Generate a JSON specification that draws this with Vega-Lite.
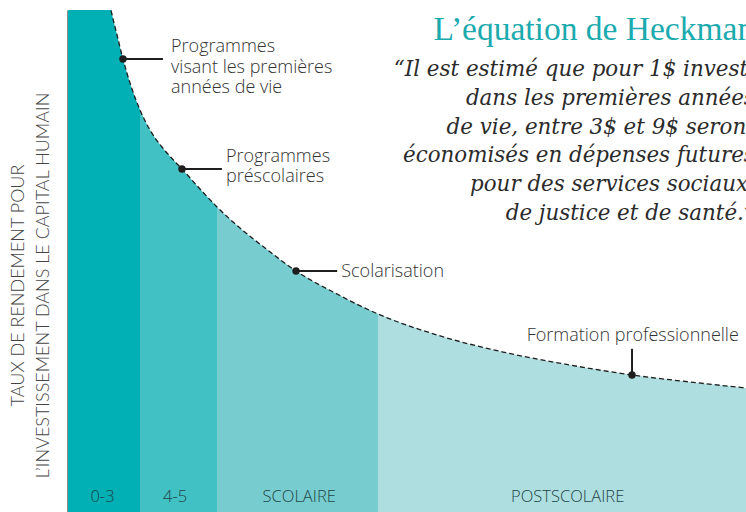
{
  "$schema": "https://vega.github.io/schema/vega-lite/v6.json",
  "width": 678,
  "height": 502,
  "autosize": {"type": "none"},
  "padding": {"left": 68, "top": 10, "right": 0, "bottom": 0},
  "background": "white",
  "config": {"view": {"stroke": null}},
  "datasets": {
    "areas": [
      {"seg": "0-3", "x": 0, "y": 151.79},
      {"seg": "0-3", "x": 1.77, "y": 134.86},
      {"seg": "0-3", "x": 3.24, "y": 122.31},
      {"seg": "0-3", "x": 4.42, "y": 112.75},
      {"seg": "0-3", "x": 5.46, "y": 105.58},
      {"seg": "0-3", "x": 6.34, "y": 100.0},
      {"seg": "0-3", "x": 7.23, "y": 95.02},
      {"seg": "0-3", "x": 8.11, "y": 90.24},
      {"seg": "0-3", "x": 9.29, "y": 84.86},
      {"seg": "0-3", "x": 10.62, "y": 80.08},
      {"seg": "4-5", "x": 10.62, "y": 80.08},
      {"seg": "4-5", "x": 12.09, "y": 76.10},
      {"seg": "4-5", "x": 13.86, "y": 72.71},
      {"seg": "4-5", "x": 15.34, "y": 70.42},
      {"seg": "4-5", "x": 16.81, "y": 68.33},
      {"seg": "4-5", "x": 19.47, "y": 64.34},
      {"seg": "4-5", "x": 21.98, "y": 60.76},
      {"seg": "SCOLAIRE", "x": 21.98, "y": 60.76},
      {"seg": "SCOLAIRE", "x": 25.37, "y": 56.57},
      {"seg": "SCOLAIRE", "x": 29.06, "y": 52.59},
      {"seg": "SCOLAIRE", "x": 33.63, "y": 48.01},
      {"seg": "SCOLAIRE", "x": 39.38, "y": 43.63},
      {"seg": "SCOLAIRE", "x": 45.72, "y": 39.44},
      {"seg": "POSTSCOLAIRE", "x": 45.72, "y": 39.44},
      {"seg": "POSTSCOLAIRE", "x": 54.42, "y": 35.26},
      {"seg": "POSTSCOLAIRE", "x": 64.16, "y": 31.87},
      {"seg": "POSTSCOLAIRE", "x": 74.04, "y": 29.28},
      {"seg": "POSTSCOLAIRE", "x": 83.19, "y": 27.29},
      {"seg": "POSTSCOLAIRE", "x": 91.74, "y": 25.90},
      {"seg": "POSTSCOLAIRE", "x": 100, "y": 24.70}
    ],
    "curve": [
      {"x": 0, "y": 151.79},
      {"x": 1.77, "y": 134.86},
      {"x": 3.24, "y": 122.31},
      {"x": 4.42, "y": 112.75},
      {"x": 5.46, "y": 105.58},
      {"x": 6.34, "y": 100.0},
      {"x": 7.23, "y": 95.02},
      {"x": 8.11, "y": 90.24},
      {"x": 9.29, "y": 84.86},
      {"x": 10.62, "y": 80.08},
      {"x": 12.09, "y": 76.10},
      {"x": 13.86, "y": 72.71},
      {"x": 15.34, "y": 70.42},
      {"x": 16.81, "y": 68.33},
      {"x": 19.47, "y": 64.34},
      {"x": 21.98, "y": 60.76},
      {"x": 25.37, "y": 56.57},
      {"x": 29.06, "y": 52.59},
      {"x": 33.63, "y": 48.01},
      {"x": 39.38, "y": 43.63},
      {"x": 45.72, "y": 39.44},
      {"x": 54.42, "y": 35.26},
      {"x": 64.16, "y": 31.87},
      {"x": 74.04, "y": 29.28},
      {"x": 83.19, "y": 27.29},
      {"x": 91.74, "y": 25.90},
      {"x": 100, "y": 24.70}
    ],
    "leaders": [
      {"x": 8.11, "x2": 14.0, "y": 90.24, "y2": 90.24},
      {"x": 16.81, "x2": 22.7, "y": 68.33, "y2": 68.33},
      {"x": 33.63, "x2": 39.7, "y": 48.01, "y2": 48.01},
      {"x": 83.19, "x2": 83.19, "y": 27.29, "y2": 32.5}
    ],
    "notes": [
      {"text": "Programmes", "x": 15.2, "y": 91.6},
      {"text": "visant les premières", "x": 15.2, "y": 87.5},
      {"text": "années de vie", "x": 15.2, "y": 83.5},
      {"text": "Programmes", "x": 23.3, "y": 69.7},
      {"text": "préscolaires", "x": 23.3, "y": 65.7},
      {"text": "Scolarisation", "x": 40.3, "y": 46.8}
    ],
    "noteCenter": [
      {"text": "Formation professionnelle", "x": 83.3, "y": 34.1}
    ],
    "bands": [
      {"text": "0-3", "x": 5.09, "y": 2.0},
      {"text": "4-5", "x": 15.8, "y": 2.0},
      {"text": "SCOLAIRE", "x": 34.1, "y": 2.0},
      {"text": "POSTSCOLAIRE", "x": 73.7, "y": 2.0}
    ],
    "title": [
      {"text": "L’équation de Heckman", "x": 101.2, "y": 94.0}
    ],
    "quote": [
      {"text": "“Il est estimé que pour 1$ investi", "x": 101.3, "y": 86.85},
      {"text": "dans les premières années", "x": 101.3, "y": 81.08},
      {"text": "de vie, entre 3$ et 9$ seront", "x": 101.3, "y": 75.3},
      {"text": "économisés en dépenses futures", "x": 101.3, "y": 69.72},
      {"text": "pour des services sociaux,", "x": 101.3, "y": 63.94},
      {"text": "de justice et de santé.”", "x": 101.3, "y": 58.17}
    ]
  },
  "encoding": {
    "x": {"field": "x", "type": "quantitative", "scale": {"domain": [0, 100], "nice": false, "zero": false}, "axis": null},
    "y": {
      "field": "y", "type": "quantitative", "stack": null,
      "scale": {"domain": [0, 100], "nice": false, "zero": false},
      "axis": {
        "domain": true, "domainColor": "#1e1e1e", "domainWidth": 2,
        "ticks": false, "labels": false, "grid": false,
        "title": ["TAUX DE RENDEMENT POUR", "L’INVESTISSEMENT DANS LE CAPITAL HUMAIN"],
        "titleFont": "Lato", "titleFontSize": 18, "titleFontWeight": 300,
        "titleColor": "#444444", "titleAngle": 270, "titleBaseline": "alphabetic",
        "titleAlign": "center", "titleX": -45, "titleY": 275, "titleLineHeight": 25
      }
    }
  },
  "layer": [
    {
      "data": {"name": "areas"},
      "mark": {"type": "area", "interpolate": "monotone", "clip": true},
      "encoding": {
        "color": {"field": "seg", "type": "nominal", "legend": null,
          "scale": {"domain": ["0-3", "4-5", "SCOLAIRE", "POSTSCOLAIRE"],
                    "range": ["#00b0b4", "#42c1c4", "#77cccf", "#aedee0"]}}
      }
    },
    {
      "data": {"name": "curve"},
      "mark": {"type": "line", "interpolate": "monotone", "clip": true, "color": "#1e1e1e", "strokeWidth": 1.3, "strokeDash": [5, 3]},
      "encoding": {}
    },
    {
      "data": {"name": "leaders"},
      "mark": {"type": "rule", "color": "#1e1e1e", "strokeWidth": 2},
      "encoding": {"x2": {"field": "x2"}, "y2": {"field": "y2"}}
    },
    {
      "data": {"name": "leaders"},
      "mark": {"type": "point", "filled": true, "color": "#1e1e1e", "size": 55, "opacity": 1},
      "encoding": {}
    },
    {
      "data": {"name": "notes"},
      "mark": {"type": "text", "align": "left", "baseline": "alphabetic", "font": "Open Sans", "fontWeight": 300, "fontSize": 18, "color": "#333333"},
      "encoding": {"text": {"field": "text"}}
    },
    {
      "data": {"name": "noteCenter"},
      "mark": {"type": "text", "align": "center", "baseline": "alphabetic", "font": "Open Sans", "fontWeight": 300, "fontSize": 18, "color": "#333333"},
      "encoding": {"text": {"field": "text"}}
    },
    {
      "data": {"name": "bands"},
      "mark": {"type": "text", "align": "center", "baseline": "alphabetic", "font": "Open Sans", "fontWeight": 300, "fontSize": 16.5, "color": "#1f4547"},
      "encoding": {"text": {"field": "text"}}
    },
    {
      "data": {"name": "title"},
      "mark": {"type": "text", "align": "right", "baseline": "alphabetic", "font": "Liberation Serif", "fontSize": 33.5, "color": "#1baaae"},
      "encoding": {"text": {"field": "text"}}
    },
    {
      "data": {"name": "quote"},
      "mark": {"type": "text", "align": "right", "baseline": "alphabetic", "font": "DejaVu Serif", "fontStyle": "italic", "fontSize": 21.4, "color": "#2b2b2b"},
      "encoding": {"text": {"field": "text"}}
    }
  ]
}
